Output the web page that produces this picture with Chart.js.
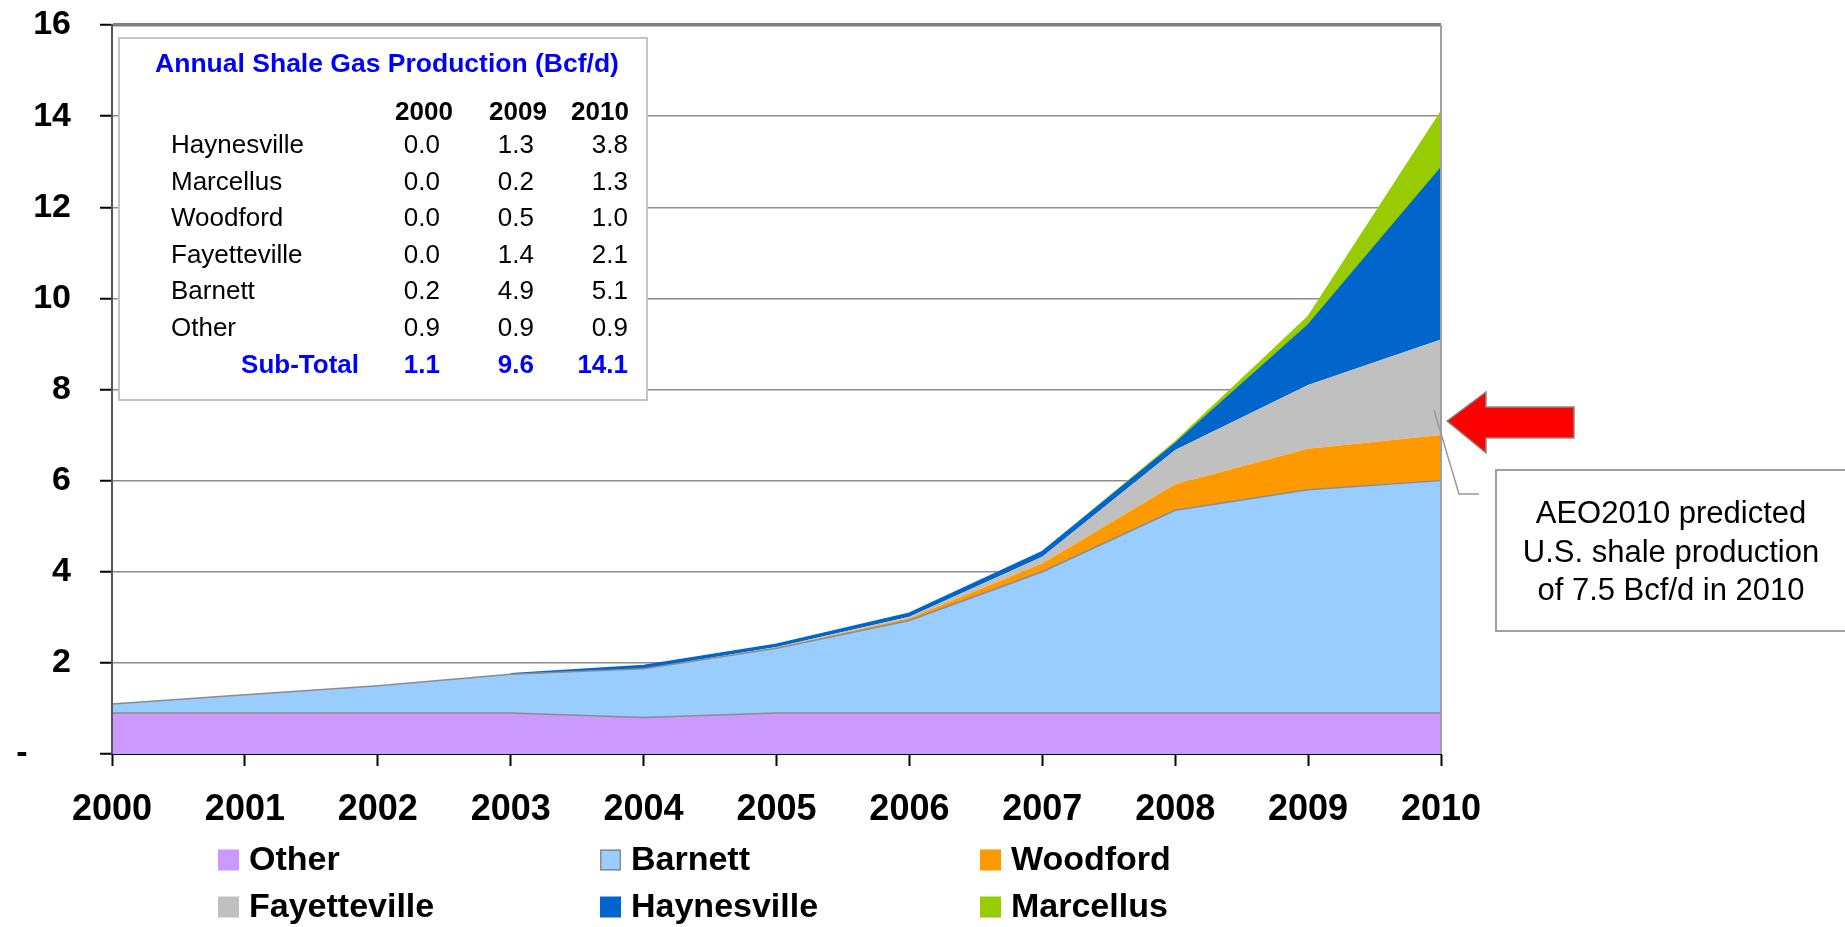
<!DOCTYPE html>
<html>
<head>
<meta charset="utf-8">
<script src="https://cdn.jsdelivr.net/npm/chart.js@4.4.0/dist/chart.umd.min.js"></script>
<style>
  html, body { margin: 0; padding: 0; background: #fff; overflow: hidden; }
  #wrap { position: relative; width: 1845px; height: 927px; }
  canvas { display: block; }
</style>
</head>
<body>
<div id="wrap"><canvas id="c" width="1845" height="927"></canvas></div>
<script>
// Annual U.S. shale gas production by play, Bcf/d
const years = ['2000', '2001', '2002', '2003', '2004', '2005', '2006', '2007', '2008', '2009', '2010'];
const other        = [0.9, 0.9, 0.9, 0.9, 0.8, 0.9, 0.9, 0.9, 0.9, 0.9, 0.9];
const barnett      = [0.2, 0.4, 0.6, 0.85, 1.07, 1.42, 2.03, 3.1, 4.45, 4.9, 5.1];
const woodford     = [0, 0, 0, 0, 0, 0.01, 0.05, 0.18, 0.57, 0.9, 1.0];
const fayetteville = [0, 0, 0, 0, 0, 0.02, 0.03, 0.15, 0.75, 1.4, 2.1];
const haynesville  = [0, 0, 0, 0, 0.06, 0.05, 0.07, 0.1, 0.13, 1.3, 3.75];
const marcellus    = [0, 0, 0, 0, 0, 0, 0, 0, 0.05, 0.2, 1.25];

const yTicks = [0, 2, 4, 6, 8, 10, 12, 14, 16];
const zeroTickLabel = '-';

// Summary table shown inside the plot
const tableTitle = 'Annual Shale Gas Production (Bcf/d)';
const tableYears = ['2000', '2009', '2010'];
const tableRows = [
  ['Haynesville', '0.0', '1.3', '3.8'],
  ['Marcellus', '0.0', '0.2', '1.3'],
  ['Woodford', '0.0', '0.5', '1.0'],
  ['Fayetteville', '0.0', '1.4', '2.1'],
  ['Barnett', '0.2', '4.9', '5.1'],
  ['Other', '0.9', '0.9', '0.9']
];
const subTotalLabel = 'Sub-Total';
const subTotals = ['1.1', '9.6', '14.1'];

const noteLines = ['AEO2010 predicted', 'U.S. shale production', 'of 7.5 Bcf/d in 2010'];

const FONT = '"Liberation Sans", Arial, Helvetica, sans-serif';
const GRID = '#8c8c8c';
const PLOT_TOP = 25;

// hide the outline of a series while it is still zero on both ends
const hideZeroSeg = color => ctx =>
  (ctx.p0.parsed.y === 0 && ctx.p1.parsed.y === 0) ? 'rgba(0,0,0,0)' : color;

function series(label, data, fillColor, border) {
  return {
    label, data,
    backgroundColor: fillColor,
    borderColor: border ? border.color : fillColor,
    borderWidth: border ? border.width : 0,
    segment: border && border.hideZero ? { borderColor: hideZeroSeg(border.color) } : undefined,
    fill: label === 'Other' ? 'origin' : '-1',
    pointRadius: 0,
    pointHoverRadius: 0,
    tension: 0
  };
}

const datasets = [
  series('Other', other, '#CC99FF', { color: GRID, width: 1.5 }),
  series('Barnett', barnett, '#99CCFF', { color: GRID, width: 1.5 }),
  series('Woodford', woodford, '#FF9900', null),
  series('Fayetteville', fayetteville, '#C0C0C0', null),
  series('Haynesville', haynesville, '#0066CC', { color: '#0066CC', width: 2.5, hideZero: true }),
  series('Marcellus', marcellus, '#99CC00', { color: '#99CC00', width: 1.5, hideZero: true })
];
const legendOutline = [null, '#8c8c8c', null, null, null, null];

// pin the plot's top edge
const pinTop = {
  id: 'pinTop',
  afterLayout(chart) {
    const a = chart.chartArea;
    if (Math.abs(a.top - PLOT_TOP) > 0.5) {
      a.top = PLOT_TOP;
      a.height = a.bottom - a.top;
      const y = chart.scales.y;
      y.top = PLOT_TOP;
      y.height = y.bottom - y.top;
      y.configure();
    }
  }
};

const overlay = {
  id: 'overlay',
  afterDatasetsDraw(chart) {
    const { ctx, chartArea: a } = chart;
    ctx.save();
    ctx.strokeStyle = '#a0a0a0';
    ctx.lineWidth = 2;
    ctx.beginPath();
    ctx.moveTo(a.right, a.top);
    ctx.lineTo(a.right, a.bottom);
    ctx.stroke();
    ctx.strokeStyle = '#555';
    ctx.lineWidth = 2;
    ctx.beginPath();
    ctx.moveTo(a.left, a.top);
    ctx.lineTo(a.left, a.bottom);
    ctx.stroke();
    ctx.restore();
  },
  afterDraw(chart) {
    const { ctx } = chart;
    ctx.save();

    // summary table box
    ctx.fillStyle = '#fff';
    ctx.fillRect(119, 38, 528, 362);
    ctx.strokeStyle = '#c4c4c4';
    ctx.lineWidth = 2;
    ctx.strokeRect(119, 38, 528, 362);

    ctx.textBaseline = 'middle';
    ctx.fillStyle = '#0000FF';
    ctx.font = 'bold 26.5px ' + FONT;
    ctx.textAlign = 'center';
    ctx.fillText(tableTitle, 387, 65);

    ctx.fillStyle = '#000';
    ctx.font = 'bold 26px ' + FONT;
    const headX = [424, 518, 600];
    tableYears.forEach((y, i) => ctx.fillText(y, headX[i], 113));

    const valRight = [440, 534, 628];
    const rowY = [146, 182.5, 219, 256, 292, 328.5];
    ctx.font = '26px ' + FONT;
    tableRows.forEach((row, r) => {
      ctx.textAlign = 'left';
      ctx.fillText(row[0], 171, rowY[r]);
      ctx.textAlign = 'right';
      for (let c = 1; c < row.length; c++) ctx.fillText(row[c], valRight[c - 1], rowY[r]);
    });
    ctx.fillStyle = '#0000FF';
    ctx.font = 'bold 26px ' + FONT;
    ctx.textAlign = 'right';
    ctx.fillText(subTotalLabel, 359, 366);
    subTotals.forEach((v, i) => ctx.fillText(v, valRight[i], 366));

    // red arrow
    ctx.beginPath();
    ctx.moveTo(1447, 421);
    ctx.lineTo(1486, 392);
    ctx.lineTo(1486, 407);
    ctx.lineTo(1574, 407);
    ctx.lineTo(1574, 438);
    ctx.lineTo(1486, 438);
    ctx.lineTo(1486, 453);
    ctx.closePath();
    ctx.fillStyle = '#FF0000';
    ctx.fill();
    ctx.strokeStyle = '#8a8a8a';
    ctx.lineWidth = 1.5;
    ctx.stroke();

    // callout
    ctx.strokeStyle = '#9a9a9a';
    ctx.lineWidth = 1.5;
    ctx.beginPath();
    ctx.moveTo(1434, 410);
    ctx.lineTo(1459, 494);
    ctx.lineTo(1479, 494);
    ctx.stroke();

    ctx.fillStyle = '#fff';
    ctx.fillRect(1496, 470, 360, 161);
    ctx.strokeStyle = '#a0a0a0';
    ctx.lineWidth = 2;
    ctx.strokeRect(1496, 470, 360, 161);
    ctx.fillStyle = '#000';
    ctx.font = '31px ' + FONT;
    ctx.textAlign = 'center';
    const noteY = [514, 553, 591];
    noteLines.forEach((t, i) => ctx.fillText(t, 1671, noteY[i]));

    // legend, three columns by two rows
    const colBox = [218, 600, 980];
    const rowMid = [860, 907];
    ctx.font = 'bold 34px ' + FONT;
    ctx.textAlign = 'left';
    chart.data.datasets.forEach((ds, i) => {
      const cx = colBox[i % 3], cy = rowMid[Math.floor(i / 3)];
      ctx.fillStyle = ds.backgroundColor;
      ctx.fillRect(cx, cy - 10.5, 21, 21);
      if (legendOutline[i]) {
        ctx.strokeStyle = legendOutline[i];
        ctx.lineWidth = 1.5;
        ctx.strokeRect(cx + 0.75, cy - 9.75, 19.5, 19.5);
      }
      ctx.fillStyle = '#000';
      ctx.fillText(ds.label, cx + 31, cy + 1);
    });

    ctx.restore();
  }
};

new Chart(document.getElementById('c'), {
  type: 'line',
  data: { labels: years, datasets },
  options: {
    responsive: false,
    devicePixelRatio: 1,
    animation: false,
    layout: { padding: { left: 0, right: 404, top: 0, bottom: 0 } },
    plugins: { legend: { display: false }, tooltip: { enabled: false } },
    scales: {
      x: {
        z: 1,
        offset: false,
        grid: { drawOnChartArea: false, drawTicks: true, tickLength: 12, tickColor: '#000', tickWidth: 2 },
        border: { display: true, color: '#000', width: 2 },
        ticks: { color: '#000', font: { family: FONT, size: 36, weight: 'bold' }, padding: 22, maxRotation: 0, autoSkip: false },
        afterFit(s) { s.height = 173; }
      },
      y: {
        stacked: true,
        min: 0, max: 16,
        afterBuildTicks(s) { s.ticks = yTicks.map(v => ({ value: v })); },
        grid: {
          color: ctx => ctx.tick && ctx.tick.value === 16 ? '#808080' : GRID,
          lineWidth: ctx => ctx.tick && ctx.tick.value === 16 ? 3.5 : 1.5,
          tickLength: 12, tickColor: '#000', tickWidth: 2
        },
        border: { display: true, color: '#555', width: 2 },
        ticks: {
          color: '#000',
          font: { family: FONT, size: 34, weight: 'bold' },
          padding: 29,
          callback: v => v === 0 ? zeroTickLabel + '\u2002\u2002 ' : String(v)
        },
        afterFit(s) { s.width = 112; }
      }
    }
  },
  plugins: [pinTop, overlay]
});
</script>
</body>
</html>
